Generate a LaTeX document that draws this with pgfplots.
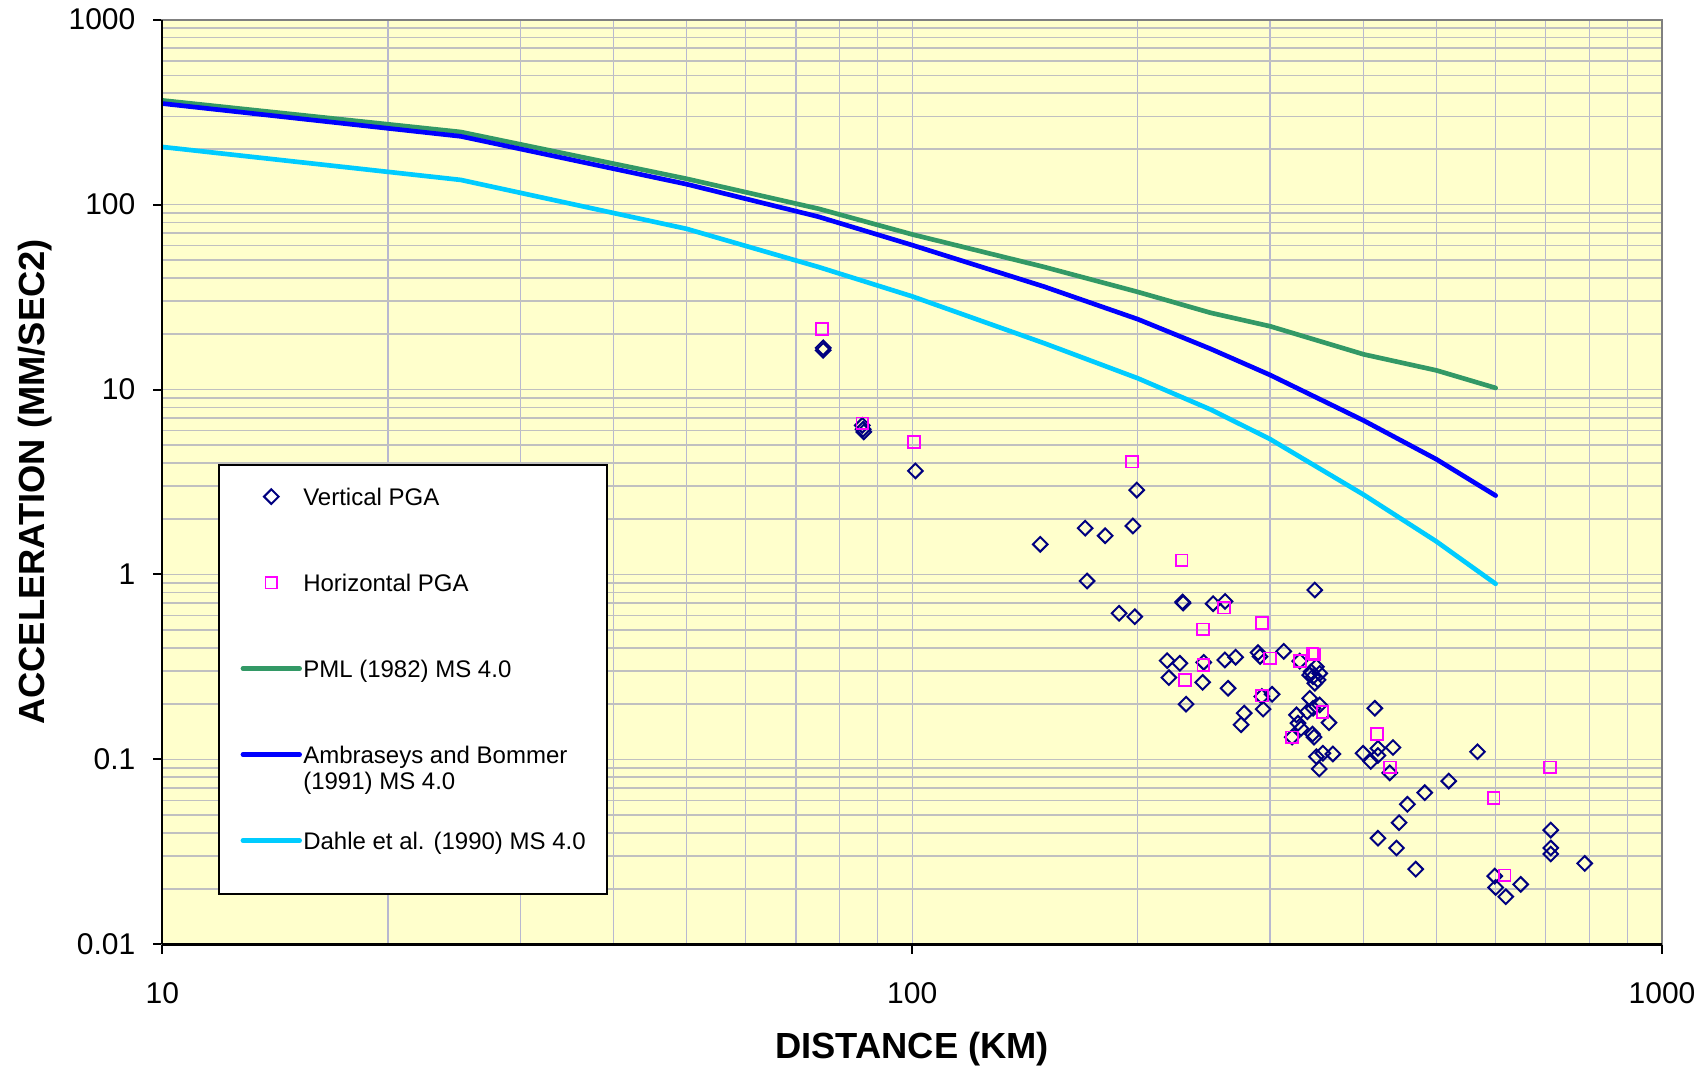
\documentclass[border=0pt]{standalone}
\usepackage{pgfplots}
\pgfplotsset{compat=1.18}
\usepackage{fontspec}
\setmainfont{Liberation Sans}
\definecolor{bgyel}{HTML}{FFFFCC}
\definecolor{navyd}{HTML}{000080}
\definecolor{magp}{HTML}{FF00FF}
\definecolor{pmlgreen}{HTML}{339966}
\definecolor{abblue}{HTML}{0000FF}
\definecolor{dacyan}{HTML}{00CCFF}
\definecolor{hgrid}{HTML}{C0C0C0}
\definecolor{vgrid}{HTML}{B8B8D0}
\pgfplotsset{
  mylinelegend/.style={legend image code/.code={\draw[##1] (0bp,2.6bp) -- (17bp,2.6bp);}},
  mymarklegend/.style={legend image code/.code={\draw[##1] plot coordinates {(8.5bp,2.6bp)};}},
}
\begin{document}
\begin{tikzpicture}
\begin{axis}[
  name=ax,
  scale only axis,
  width=449.9bp, height=277.4bp,
  xmode=log, ymode=log,
  xmin=10, xmax=1000, ymin=0.01, ymax=1000,
  axis background/.style={fill=bgyel},
  xtick={10,100,1000}, xticklabels={10,100,1000},
  ytick={0.01,0.1,1,10,100,1000}, yticklabels={0.01,0.1,1,10,100,1000},
  minor xtick={20,30,40,50,60,70,80,90,200,300,400,500,600,700,800,900},
  minor ytick={0.02,0.03,0.04,0.05,0.06,0.07,0.08,0.09,0.2,0.3,0.4,0.5,0.6,0.7,0.8,0.9,2,3,4,5,6,7,8,9,20,30,40,50,60,70,80,90,200,300,400,500,600,700,800,900},
  grid=both,
  x grid style={draw=vgrid, line width=0.35bp},
  y grid style={draw=hgrid, line width=0.5bp},
  minor x grid style={draw=vgrid, line width=0.35bp},
  minor y grid style={draw=hgrid, line width=0.5bp},
  major tick length=2.8bp, minor tick length=0pt,
  tick align=outside,
  xtick pos=bottom, ytick pos=left,
  tick style={black, line width=0.6bp},
  axis line style={draw=gray, line width=0.6bp},
  tick label style={font=\fontsize{9bp}{10bp}\selectfont},
  xticklabel style={yshift=-5.1bp},
  yticklabel style={xshift=-1.8bp},
  xlabel={DISTANCE (KM)},
  ylabel={ACCELERATION (MM/SEC2)},
  label style={font=\fontsize{10.9bp}{12bp}\selectfont\bfseries},
  xlabel style={at={(axis description cs:0.5,-0.1135)}, anchor=center},
  ylabel style={at={(axis description cs:-0.085,0.5)}, anchor=center},
  legend style={
    at={(axis description cs:0.0371,0.5195)}, anchor=north west,
    fill=white, draw=black, line width=0.6bp,
    font=\fontsize{7.2bp}{8bp}\selectfont,
    inner xsep=6.5bp, inner ysep=6.1bp,
    cells={anchor=base west},
    nodes={text height=6bp, text depth=2bp, inner ysep=0bp, inner xsep=0bp},
    row sep=17.8bp, column sep=0.4bp,
  },
  after end axis/.code={
    \draw[black, line width=0.9bp] (rel axis cs:0,0) -- (rel axis cs:1,0);
    \draw[black, line width=0.6bp] (rel axis cs:0,0) -- (rel axis cs:0,1);
  },
]
\addplot[only marks, mark=square, mark size=1.55bp, navyd,
  mark options={rotate=45, line width=0.6bp, solid}, mymarklegend]
  coordinates {
(76.1,16.8) (76.1,16.3) (85.8,6.4) (86.0,6.1) (86.2,5.9) (101,3.63)
(199.3,2.86) (197,1.83) (170.1,1.78) (180.9,1.62) (148.2,1.456) (171.1,0.922)
(188.8,0.617) (198.1,0.591) (344.3,0.824) (229.4,0.71) (229.8,0.70) (252,0.695)
(261.4,0.715) (218.8,0.342) (227.5,0.331) (244.8,0.335) (261.2,0.345) (270,0.357)
(289.3,0.378) (291,0.36) (313,0.384) (328.8,0.34) (346,0.317) (339,0.286)
(342.5,0.280) (347.8,0.269) (344.3,0.258) (349.6,0.292) (340.4,0.298) (220,0.277)
(244,0.261) (263.8,0.2425) (231.9,0.199) (292.6,0.219) (302,0.225) (293.8,0.187)
(277.2,0.178) (274.6,0.154) (339,0.214) (349.6,0.197) (336.5,0.181) (342.5,0.189)
(359.7,0.158) (325.5,0.174) (327,0.157) (330,0.147) (321.2,0.132) (342,0.137)
(343.5,0.132) (346,0.1035) (353,0.108) (364,0.107) (349,0.0888) (414,0.189)
(399.3,0.108) (408.9,0.0975) (418,0.1148) (418,0.105) (437.8,0.116) (433.5,0.0846)
(567.5,0.110) (519.5,0.0764) (482.6,0.0661) (457.6,0.0572) (446,0.0455) (418,0.0375)
(710.7,0.0415) (710.7,0.0332) (710.7,0.0308) (442.5,0.0332) (788.8,0.0274) (469.4,0.0255)
(598.4,0.0234) (600,0.0203) (648,0.0211) (619,0.0181)
  };
\addlegendentry{Vertical PGA}
\addplot[only marks, mark=square, mark size=1.75bp, magp,
  mark options={line width=0.55bp, solid}, mymarklegend]
  coordinates {
(75.8,21.2) (85.8,6.57) (100.5,5.22) (196.3,4.07) (228.8,1.193) (260.4,0.661)
(244.1,0.505) (292.6,0.545) (244.5,0.324) (299.9,0.352) (328.8,0.3405) (342,0.375)
(344,0.37) (231.2,0.269) (292.6,0.221) (352.5,0.181) (321.2,0.1317) (417,0.1368)
(433.5,0.0907) (708.6,0.0907) (596.5,0.0617) (617,0.0236)
  };
\addlegendentry{Horizontal PGA}
\addplot[pmlgreen, line width=1.4bp, line join=round, line cap=round, no marks, mylinelegend]
  coordinates {(10,366) (25,247) (50,138) (75,95) (100,69) (150,46) (200,33.7) (250,26) (300,22) (400,15.5) (500,12.7) (600,10.2)};
\addlegendentry{PML (1982) MS 4.0}
\addplot[abblue, line width=1.4bp, line join=round, line cap=round, no marks, mylinelegend]
  coordinates {(10,352) (25,234) (50,129) (75,86) (100,60.4) (150,36) (200,24) (250,16.6) (300,12) (400,6.8) (500,4.2) (600,2.67)};
\addlegendentry{\begin{tabular}[t]{@{}l@{}}Ambraseys and Bommer\\(1991) MS 4.0\end{tabular}}
\addplot[dacyan, line width=1.4bp, line join=round, line cap=round, no marks, mylinelegend]
  coordinates {(10,205) (25,136) (50,74) (75,46) (100,31.9) (150,17.8) (200,11.5) (250,7.8) (300,5.4) (400,2.7) (500,1.51) (600,0.89)};
\addlegendentry[text depth=7.2bp]{Dahle et al. (1990) MS 4.0}
\end{axis}
\pgfresetboundingbox
\path ([shift={(-48.7bp,-36.8bp)}]ax.south west) rectangle ([shift={(13.8bp,5.9bp)}]ax.north east);
\end{tikzpicture}
\end{document}
